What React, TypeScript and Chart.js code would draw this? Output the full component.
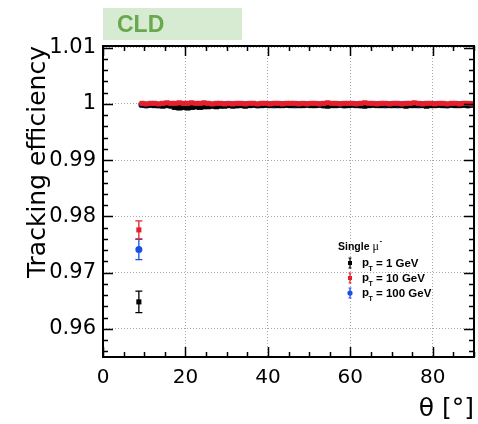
import { useEffect, useRef } from "react";
import { Chart, registerables } from "chart.js";

Chart.register(...registerables);

// Polar-angle bins (degrees) of the efficiency scan
const thetaBins = [
  8.7, 9.5, 10.5, 11.5, 12.5, 13.5, 14.5, 15.5, 16.5, 17.5, 18.5, 19.5, 20.5, 21.5, 22.5, 23.5,
  24.5, 25.5, 26.5, 27.5, 28.5, 29.5, 30.5, 31.5, 32.5, 33.5, 34.5, 35.5, 36.5, 37.5, 38.5, 39.5,
  40.5, 41.5, 42.5, 43.5, 44.5, 45.5, 46.5, 47.5, 48.5, 49.5, 50.5, 51.5, 52.5, 53.5, 54.5, 55.5,
  56.5, 57.5, 58.5, 59.5, 60.5, 61.5, 62.5, 63.5, 64.5, 65.5, 66.5, 67.5, 68.5, 69.5, 70.5, 71.5,
  72.5, 73.5, 74.5, 75.5, 76.5, 77.5, 78.5, 79.5, 80.5, 81.5, 82.5, 83.5, 84.5, 85.5, 86.5, 87.5,
  88.5, 89.5,
];

// pT = 1 GeV
const eff1GeV = [
  0.9648,
  0.9998, 0.9997, 0.9998, 0.9997, 0.9997, 0.9996, 0.9997, 0.9996,
  0.9994, 0.9993, 0.9994, 0.9993, 0.9994,
  0.9995, 0.9994, 0.9995, 0.9995, 0.9996, 0.9995, 0.9996, 0.9996,
  0.9997, 0.9996, 0.9997, 0.9997, 0.9996, 0.9997, 0.9998, 0.9997, 0.9997, 0.9998,
  0.9997, 0.9998, 0.9997, 0.9997, 0.9998, 0.9997, 0.9998, 0.9997, 0.9997, 0.9998,
  0.9997, 0.9997, 0.9998, 0.9997, 0.9996, 0.9997, 0.9997, 0.9998, 0.9997, 0.9997,
  0.9998, 0.9997, 0.9997, 0.9996, 0.9997, 0.9998, 0.9997, 0.9997, 0.9998, 0.9997,
  0.9997, 0.9998, 0.9997, 0.9996, 0.9997, 0.9997, 0.9998, 0.9997, 0.9996, 0.9997,
  0.9997, 0.9998, 0.9997, 0.9997, 0.9998, 0.9997, 0.9997, 0.9998, 0.9997, 0.9998,
];
const err1GeV = [
  0.0019,
  0.0002, 0.0002, 0.0002, 0.0002, 0.0002, 0.0002, 0.0002, 0.0002,
  0.0003, 0.0003, 0.0003, 0.0003, 0.0003,
  0.0002, 0.0003, 0.0002, 0.0002, 0.0002, 0.0002, 0.0002, 0.0002,
  0.0002, 0.0002, 0.0002, 0.0002, 0.0002, 0.0002, 0.0002, 0.0002, 0.0002, 0.0002,
  0.0002, 0.0002, 0.0002, 0.0002, 0.0002, 0.0002, 0.0002, 0.0002, 0.0002, 0.0002,
  0.0002, 0.0002, 0.0002, 0.0002, 0.0002, 0.0002, 0.0002, 0.0002, 0.0002, 0.0002,
  0.0002, 0.0002, 0.0002, 0.0002, 0.0002, 0.0002, 0.0002, 0.0002, 0.0002, 0.0002,
  0.0002, 0.0002, 0.0002, 0.0002, 0.0002, 0.0002, 0.0002, 0.0002, 0.0002, 0.0002,
  0.0002, 0.0002, 0.0002, 0.0002, 0.0002, 0.0002, 0.0002, 0.0002, 0.0002, 0.0002,
];

// pT = 10 GeV
const eff10GeV = [
  0.9776,
  1.0001, 1.0, 1.0001, 1.0001, 1.0, 1.0001, 1.0002, 1.0001, 1.0001, 1.0002, 1.0001,
  1.0001, 1.0002, 1.0001, 1.0001, 1.0002, 1.0001, 1.0, 1.0001, 1.0001, 1.0,
  1.0001, 1.0, 1.0001, 1.0001, 1.0, 1.0001, 1.0001, 1.0, 1.0001, 1.0001,
  1.0, 1.0001, 1.0001, 1.0, 1.0001, 1.0001, 1.0001, 1.0, 1.0001, 1.0,
  1.0001, 1.0001, 1.0, 1.0001, 1.0002, 1.0001, 1.0001, 1.0, 1.0001, 1.0001,
  1.0001, 1.0, 1.0001, 1.0002, 1.0001, 1.0001, 1.0, 1.0001, 1.0001, 1.0,
  1.0001, 1.0001, 1.0, 1.0001, 1.0001, 1.0002, 1.0001, 1.0, 1.0001, 1.0001,
  1.0, 1.0001, 1.0001, 1.0, 1.0001, 1.0001, 1.0, 1.0001, 1.0001, 1.0,
];
const err10GeV = [
  0.0016,
  0.0001, 0.0001, 0.0001, 0.0001, 0.0001, 0.0001, 0.0001, 0.0001, 0.0001, 0.0001, 0.0001,
  0.0001, 0.0001, 0.0001, 0.0001, 0.0001, 0.0001, 0.0001, 0.0001, 0.0001, 0.0001,
  0.0001, 0.0001, 0.0001, 0.0001, 0.0001, 0.0001, 0.0001, 0.0001, 0.0001, 0.0001,
  0.0001, 0.0001, 0.0001, 0.0001, 0.0001, 0.0001, 0.0001, 0.0001, 0.0001, 0.0001,
  0.0001, 0.0001, 0.0001, 0.0001, 0.0001, 0.0001, 0.0001, 0.0001, 0.0001, 0.0001,
  0.0001, 0.0001, 0.0001, 0.0001, 0.0001, 0.0001, 0.0001, 0.0001, 0.0001, 0.0001,
  0.0001, 0.0001, 0.0001, 0.0001, 0.0001, 0.0001, 0.0001, 0.0001, 0.0001, 0.0001,
  0.0001, 0.0001, 0.0001, 0.0001, 0.0001, 0.0001, 0.0001, 0.0001, 0.0001, 0.0001,
];

// pT = 100 GeV
const eff100GeV = [
  0.9741,
  0.9999, 0.9998, 0.9999, 0.9999, 0.9998, 0.9999, 0.9999, 0.9999, 0.9998, 0.9999, 0.9999,
  0.9999, 0.9999, 0.9998, 0.9999, 0.9999, 0.9999, 0.9998, 0.9999, 0.9999, 0.9999,
  0.9999, 0.9999, 0.9998, 0.9999, 0.9999, 0.9999, 0.9999, 0.9998, 0.9999, 0.9999,
  0.9999, 0.9998, 0.9999, 0.9999, 0.9999, 0.9999, 0.9998, 0.9999, 0.9999, 0.9999,
  0.9999, 0.9999, 0.9999, 0.9998, 0.9999, 0.9999, 0.9999, 0.9999, 0.9998, 0.9999,
  0.9999, 0.9999, 0.9998, 0.9999, 0.9999, 0.9999, 0.9999, 0.9999, 0.9998, 0.9999,
  0.9999, 0.9998, 0.9999, 0.9999, 0.9999, 0.9999, 0.9998, 0.9999, 0.9999, 0.9999,
  0.9999, 0.9999, 0.9999, 0.9998, 0.9999, 0.9999, 0.9999, 0.9999, 0.9998, 0.9999,
];
const err100GeV = [
  0.0018,
  0.0001, 0.0001, 0.0001, 0.0001, 0.0001, 0.0001, 0.0001, 0.0001, 0.0001, 0.0001, 0.0001,
  0.0001, 0.0001, 0.0001, 0.0001, 0.0001, 0.0001, 0.0001, 0.0001, 0.0001, 0.0001,
  0.0001, 0.0001, 0.0001, 0.0001, 0.0001, 0.0001, 0.0001, 0.0001, 0.0001, 0.0001,
  0.0001, 0.0001, 0.0001, 0.0001, 0.0001, 0.0001, 0.0001, 0.0001, 0.0001, 0.0001,
  0.0001, 0.0001, 0.0001, 0.0001, 0.0001, 0.0001, 0.0001, 0.0001, 0.0001, 0.0001,
  0.0001, 0.0001, 0.0001, 0.0001, 0.0001, 0.0001, 0.0001, 0.0001, 0.0001, 0.0001,
  0.0001, 0.0001, 0.0001, 0.0001, 0.0001, 0.0001, 0.0001, 0.0001, 0.0001, 0.0001,
  0.0001, 0.0001, 0.0001, 0.0001, 0.0001, 0.0001, 0.0001, 0.0001, 0.0001, 0.0001,
];

const xTickValues = [0, 20, 40, 60, 80];
const xTickLabels = ["0", "20", "40", "60", "80"];
const yTickValues = [0.96, 0.97, 0.98, 0.99, 1, 1.01];
const yTickLabels = ["0.96", "0.97", "0.98", "0.99", "1", "1.01"];

const seriesLabels = ["1 GeV", "10 GeV", "100 GeV"];
const BLACK = "#000000";
const RED = "#e3202c";
const BLUE = "#1b4fe3";
const SANS = "'DejaVu Sans'";
const HELV = "'Liberation Sans'";

type Series = { label: string; eff: number[]; err: number[]; color: string; style: string; order: number };

// order: lower value is painted on top (red over black over blue)
const series: Series[] = [
  { label: seriesLabels[0], eff: eff1GeV, err: err1GeV, color: BLACK, style: "rect", order: 1 },
  { label: seriesLabels[1], eff: eff10GeV, err: err10GeV, color: RED, style: "rect", order: 0 },
  { label: seriesLabels[2], eff: eff100GeV, err: err100GeV, color: BLUE, style: "circle", order: 2 },
];

// Vertical error bars with end caps, drawn just before each dataset's markers
const errorBarPlugin = {
  id: "errorBars",
  beforeDatasetDraw(chart: any, args: any) {
    const ds = chart.data.datasets[args.index];
    const errs: number[] = ds.errors;
    const ys = chart.scales.y;
    const { ctx, chartArea: a } = chart;
    ctx.save();
    ctx.beginPath();
    ctx.rect(a.left, a.top, a.right - a.left, a.bottom - a.top);
    ctx.clip();
    ctx.strokeStyle = ds.borderColor;
    ctx.lineWidth = 1.3;
    args.meta.data.forEach((pt: any, i: number) => {
      const v = ds.data[i].y;
      const e = errs[i];
      const y1 = ys.getPixelForValue(v + e);
      const y2 = ys.getPixelForValue(v - e);
      const x = pt.x;
      ctx.beginPath();
      ctx.moveTo(x, y1);
      ctx.lineTo(x, y2);
      ctx.moveTo(x - 3.5, y1);
      ctx.lineTo(x + 3.5, y1);
      ctx.moveTo(x - 3.5, y2);
      ctx.lineTo(x + 3.5, y2);
      ctx.stroke();
    });
    ctx.restore();
  },
};

// Frame with inward ticks on all four sides, experiment tag and legend box
const decorPlugin = {
  id: "decor",
  afterDraw(chart: any) {
    const { ctx, chartArea: a } = chart;
    const xs = chart.scales.x;
    const ys = chart.scales.y;
    ctx.save();

    // ticks
    ctx.strokeStyle = "#000";
    ctx.lineWidth = 1.5;
    ctx.beginPath();
    for (let k = 0; k <= 18; k++) {
      const v = k * 5;
      const len = v % 20 === 0 ? 10 : 5;
      const px = Math.round(xs.getPixelForValue(v)) + 0.5;
      ctx.moveTo(px, a.bottom);
      ctx.lineTo(px, a.bottom - len);
      ctx.moveTo(px, a.top);
      ctx.lineTo(px, a.top + len);
    }
    for (let k = 478; k <= 505; k++) {
      const v = k * 0.002;
      const major = k % 5 === 0;
      const len = major ? 10 : 5;
      const py = Math.round(ys.getPixelForValue(v)) + 0.5;
      ctx.moveTo(a.left, py);
      ctx.lineTo(a.left + len, py);
      ctx.moveTo(a.right, py);
      ctx.lineTo(a.right - len, py);
    }
    ctx.stroke();

    // frame
    ctx.lineWidth = 2;
    ctx.strokeRect(a.left, a.top, a.right - a.left, a.bottom - a.top);

    // experiment tag
    ctx.fillStyle = "#d6ebd1";
    ctx.fillRect(103, 8, 139, 32);
    ctx.fillStyle = "#6aa84f";
    ctx.font = `bold 23px ${HELV}`;
    ctx.textBaseline = "alphabetic";
    ctx.textAlign = "left";
    ctx.fillText("CLD", 117, 32);

    // legend
    ctx.fillStyle = "#000";
    ctx.font = `bold 10.5px ${HELV}`;
    ctx.fillText("Single", 338, 250);
    const w = ctx.measureText("Single").width;
    ctx.font = `12px 'Liberation Serif'`;
    ctx.fillText("\u03bc", 338 + w + 3, 250);
    ctx.font = `bold 8px ${HELV}`;
    ctx.fillText("-", 338 + w + 10, 243);

    const rowY = [263, 278, 293];
    series.forEach((s, i) => {
      const y = rowY[i];
      const x = 350;
      ctx.strokeStyle = s.color;
      ctx.fillStyle = s.color;
      ctx.lineWidth = 1.2;
      ctx.beginPath();
      ctx.moveTo(x, y - 5);
      ctx.lineTo(x, y + 5);
      ctx.moveTo(x - 1.5, y - 5);
      ctx.lineTo(x + 1.5, y - 5);
      ctx.moveTo(x - 1.5, y + 5);
      ctx.lineTo(x + 1.5, y + 5);
      ctx.stroke();
      if (s.style === "circle") {
        ctx.beginPath();
        ctx.arc(x, y, 2.6, 0, Math.PI * 2);
        ctx.fill();
      } else {
        ctx.fillRect(x - 2, y - 2, 4, 4);
      }
      ctx.fillStyle = "#000";
      ctx.font = `bold 11.5px ${HELV}`;
      ctx.fillText("p", 362, y + 3);
      ctx.font = `bold 7px ${HELV}`;
      ctx.fillText("T", 368.5, y + 8);
      ctx.font = `bold 11.5px ${HELV}`;
      ctx.fillText("= " + s.label, 376, y + 4);
    });

    ctx.restore();
  },
};

export default function App() {
  const canvasRef = useRef<HTMLCanvasElement | null>(null);

  useEffect(() => {
    const canvas = canvasRef.current;
    if (!canvas) return;

    const datasets = series.map((s) => ({
      label: s.label,
      data: thetaBins.map((t, i) => ({ x: t, y: s.eff[i] })),
      errors: s.err,
      borderColor: s.color,
      backgroundColor: s.color,
      pointStyle: s.style,
      pointRadius: s.style === "circle" ? 3.5 : 3.6,
      pointBorderWidth: 0,
      showLine: false,
      order: s.order,
    }));

    const chart = new Chart(canvas, {
      type: "scatter",
      data: { datasets: datasets as any },
      plugins: [errorBarPlugin, decorPlugin],
      options: {
        responsive: false,
        animation: false,
        events: [],
        layout: { padding: { top: 46, right: 2, left: 0, bottom: 0 } },
        plugins: { legend: { display: false }, tooltip: { enabled: false } },
        scales: {
          x: {
            type: "linear",
            min: 0,
            max: 90,
            afterBuildTicks: (s: any) => {
              s.ticks = xTickValues.map((v) => ({ value: v }));
            },
            afterFit: (s: any) => {
              s.height = 67;
            },
            ticks: {
              color: "#000",
              font: { family: SANS, size: 20 },
              padding: 9,
              maxRotation: 0,
              autoSkip: false,
              callback: (v: any) => xTickLabels[xTickValues.indexOf(Number(v))],
            },
            grid: { color: "#a8a8a8", lineWidth: 1, drawTicks: false },
            border: { display: false, dash: [1, 2] },
            title: {
              display: true,
              text: "\u03b8 [\u00b0]",
              align: "end",
              color: "#000",
              font: { family: SANS, size: 25 },
              padding: { top: 0, bottom: 0 },
            },
          },
          y: {
            type: "linear",
            min: 0.955,
            max: 1.0103,
            afterBuildTicks: (s: any) => {
              s.ticks = yTickValues.map((v) => ({ value: v }));
            },
            afterFit: (s: any) => {
              s.width = 103;
            },
            ticks: {
              color: "#000",
              font: { family: SANS, size: 21 },
              padding: 7,
              autoSkip: false,
              callback: (v: any) => {
                const i = yTickValues.findIndex((t) => Math.abs(t - Number(v)) < 1e-9);
                return i >= 0 ? yTickLabels[i] : "";
              },
            },
            grid: { color: "#a8a8a8", lineWidth: 1, drawTicks: false },
            border: { display: false, dash: [1, 2] },
            title: {
              display: true,
              text: "Tracking efficiency",
              align: "end",
              color: "#000",
              font: { family: SANS, size: 25 },
              padding: { top: 23, bottom: 0 },
            },
          },
        },
      } as any,
    });

    return () => chart.destroy();
  }, []);

  return (
    <div style={{ position: "absolute", left: 0, top: 0, width: 478, height: 424, background: "#fff" }}>
      <canvas ref={canvasRef} width={478} height={424} style={{ display: "block" }} />
    </div>
  );
}
